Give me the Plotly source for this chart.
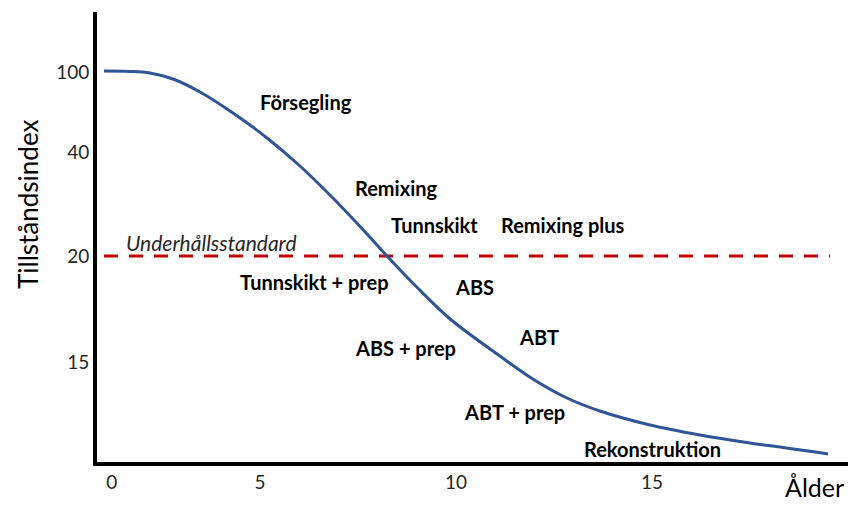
import plotly.graph_objects as go

# Curve (age in years, vertical position in chart units: 0 = x-axis, 1 unit ~ 1 px)
age = [1.02, 1.68, 2.19, 2.78, 3.47, 4.31, 5.18, 6.02, 6.86, 7.73, 8.24, 9.01,
       9.85, 11.12, 11.96, 12.83, 13.67, 14.95, 16.22, 17.50, 18.34, 19.21, 19.49]
condition = [391, 390.6, 389, 383, 370, 349, 324, 296, 264, 228, 206, 174.5,
             143, 106, 83, 64, 51, 37, 27, 19, 14.5, 9.7, 8]

# Maintenance standard line
standard_age = [1.02, 19.54]
standard_level = [206, 206]

# Tick labels
y_tick_pos = [390, 310, 206, 100]
y_tick_text = ["100", "40", "20", "15"]
x_tick_pos = [1.22, 5, 10, 15]
x_tick_text = ["0", "5", "10", "15"]

# Treatment labels (age, position)
labels = ["Försegling", "Remixing", "Tunnskikt", "Remixing plus", "Tunnskikt + prep",
          "ABS", "ABT", "ABS + prep", "ABT + prep", "Rekonstruktion"]
label_age = [6.17, 8.47, 9.44, 12.73, 6.40, 10.46, 12.12, 8.72, 11.50, 15.02]
label_pos = [360, 274, 237, 237, 180, 175, 125, 114, 50, 13]

FONT = "Lato"

fig = go.Figure()
fig.add_trace(go.Scatter(x=standard_age, y=standard_level, mode="lines",
                         line=dict(color="#C00000", width=3, dash="14px,11px"),
                         hoverinfo="skip", showlegend=False))
fig.add_trace(go.Scatter(x=age, y=condition, mode="lines",
                         line=dict(color="#2F5597", width=3, shape="spline", smoothing=1.0),
                         showlegend=False))

for t, a, p in zip(labels, label_age, label_pos):
    fig.add_annotation(x=a, y=p, xref="x", yref="y", text="<b>" + t + "</b>",
                       showarrow=False, font=dict(family=FONT, size=20, color="#000000"))

fig.add_annotation(x=1.53, y=220, xref="x", yref="y", xanchor="left",
                   text="<i>Underhållsstandard</i>", showarrow=False,
                   font=dict(family=FONT, size=21, color="#262626"))

fig.add_annotation(x=(10 - 97) / 751, y=(462 - 205) / 450, xref="paper", yref="paper",
                   text="Tillståndsindex", textangle=-90, showarrow=False,
                   font=dict(family=FONT, size=26, color="#000000"))
fig.add_annotation(x=(846 - 97) / 751, y=-42 / 450, xref="paper", yref="paper", xanchor="right",
                   text="Ålder", showarrow=False,
                   font=dict(family=FONT, size=25, color="#000000"))

fig.update_layout(
    width=848, height=506,
    margin=dict(l=97, r=0, t=12, b=44),
    paper_bgcolor="white", plot_bgcolor="white",
    font=dict(family=FONT),
    xaxis=dict(range=[0.842, 20.0], showgrid=False, zeroline=False,
               showline=True, linecolor="black", linewidth=4,
               tickmode="array", tickvals=x_tick_pos, ticktext=x_tick_text,
               ticks="", tickfont=dict(family=FONT, size=19, color="#262626")),
    yaxis=dict(range=[0, 450], showgrid=False, zeroline=False,
               showline=True, linecolor="black", linewidth=4,
               tickmode="array", tickvals=y_tick_pos, ticktext=y_tick_text,
               ticks="", tickfont=dict(family=FONT, size=19, color="#262626")),
)

fig.write_html("out.html", config={"displayModeBar": False},
               post_script="document.body.style.margin='0';")
